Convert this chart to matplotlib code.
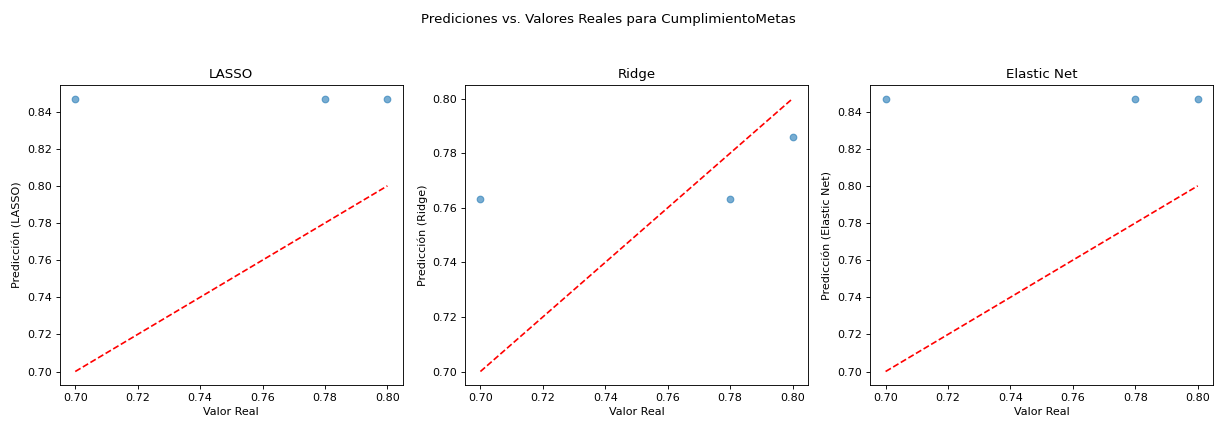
import numpy as np
import matplotlib
matplotlib.use("Agg")
import matplotlib.pyplot as plt

# valores reales y predicciones de cada modelo
y_real = [0.70, 0.78, 0.80]
pred_lasso = [0.847, 0.847, 0.847]
pred_ridge = [0.7633, 0.7633, 0.786]
pred_enet = [0.847, 0.847, 0.847]

modelos = ["LASSO", "Ridge", "Elastic Net"]
predicciones = [pred_lasso, pred_ridge, pred_enet]

fig, axes = plt.subplots(1, 3, figsize=(1217 / 80, 427 / 80))

for ax, nombre, pred in zip(axes, modelos, predicciones):
    ax.scatter(y_real, pred, alpha=0.6)
    ax.plot([min(y_real), max(y_real)], [min(y_real), max(y_real)], 'r--')
    ax.set_xlabel('Valor Real')
    ax.set_ylabel('Predicción (%s)' % nombre)
    ax.set_title(nombre)

fig.suptitle('Prediciones vs. Valores Reales para CumplimientoMetas', y=0.97)
plt.subplots_adjust(left=0.049, right=0.997, top=0.801, bottom=0.098, wspace=0.18)

plt.savefig('out.png', dpi=80)
